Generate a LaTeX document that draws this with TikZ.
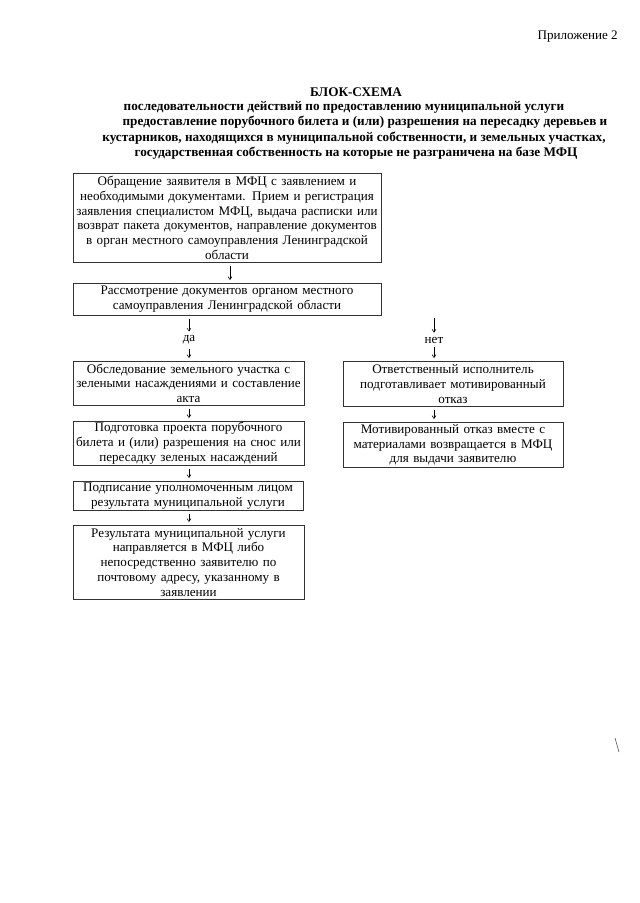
\documentclass[tikz,border=0pt]{standalone}
\usepackage{fontspec}
\setmainfont{Liberation Serif}
\usetikzlibrary{arrows.meta,positioning}

\begin{document}
\begin{tikzpicture}[x=1pt,y=-1pt,>={Straight Barb[length=3pt,width=4pt]},
  blok/.style={draw=black!80,line width=0.6pt,align=center,anchor=north,inner xsep=1pt,inner ysep=0pt,font=\fontsize{13.1}{14.8}\selectfont},
  ttl/.style={font=\bfseries\fontsize{13.2}{15}\selectfont,inner sep=0pt},
  metka/.style={font=\fontsize{13.1}{14.8}\selectfont,inner sep=1pt},
  strl/.style={->,line width=0.5pt,shorten <=3pt,shorten >=3pt}]
  \useasboundingbox (0,0) rectangle (640,903);
  % header
  \node[metka,anchor=east] (pril) at (619,37) {Приложение 2};
  \node[ttl] (t0) at (356,92) {БЛОК-СХЕМА};
  \node[ttl] (t1) at (344,107) {последовательности действий по предоставлению муниципальной услуги};
  \node[ttl] (t2) at (365,122) {предоставление порубочного билета и (или) разрешения на пересадку деревьев и};
  \node[ttl] (t3) at (354,138) {кустарников, находящихся в муниципальной собственности, и земельных участках,};
  \node[ttl] (t4) at (356,153) {государственная собственность на которые не разграничена на базе МФЦ};
  % boxes
  \node[blok,text width=306pt,minimum height=89pt] (k1) at (227,173) {Обращение заявителя в МФЦ с заявлением и\\ необходимыми документами. Прием и регистрация\\ заявления специалистом МФЦ, выдача расписки или\\ возврат пакета документов, направление документов\\ в орган местного самоуправления Ленинградской\\ области};
  \node[blok,text width=306pt,minimum height=32pt] (k2) at (227,283) {Рассмотрение документов органом местного\\ самоуправления Ленинградской области};
  \node[blok,text width=229pt,minimum height=44pt] (k3) at (188.5,361) {Обследование земельного участка с\\ зелеными насаждениями и составление\\ акта};
  \node[blok,text width=229pt,minimum height=44pt] (k4) at (188.5,421) {Подготовка проекта порубочного\\ билета и (или) разрешения на снос или\\ пересадку зеленых насаждений};
  \node[blok,text width=228pt,minimum height=29pt] (k5) at (188,481) {Подписание уполномоченным лицом\\ результата муниципальной услуги};
  \node[blok,text width=229pt,minimum height=74pt] (k6) at (188.5,525) {Результата муниципальной услуги\\ направляется в МФЦ либо\\ непосредственно заявителю по\\ почтовому адресу, указанному в\\ заявлении};
  \node[blok,text width=218pt,minimum height=45pt] (r1) at (453,361) {Ответственный исполнитель\\ подготавливает мотивированный\\ отказ};
  \node[blok,text width=218pt,minimum height=45pt] (r2) at (453,422) {Мотивированный отказ вместе с\\ материалами возвращается в МФЦ\\ для выдачи заявителю};
  % branches
  \node[metka] (da) at (189,340) {да};
  \node[metka] (net) at (434,340) {нет};
  \coordinate (netv) at (434,315);
  % arrows
  \draw[strl] ([xshift=3pt]k1.south) -- ([xshift=3pt]k2.north);
  \draw[strl] (k2.south -| da) -- (da);
  \draw[strl] (da) -- (k3.north -| da);
  \draw[strl] (netv) -- (net);
  \draw[strl] (net) -- (r1.north -| net);
  \draw[strl] (r1.south -| net) -- (r2.north -| net);
  \draw[strl] (k3.south -| da) -- (k4.north -| da);
  \draw[strl] (k4.south -| da) -- (k5.north -| da);
  \draw[strl] (k5.south -| da) -- (k6.north -| da);
  % stray mark
  \draw[black!70,line width=0.6pt] (615,738) -- (619,752);
\end{tikzpicture}
\end{document}
